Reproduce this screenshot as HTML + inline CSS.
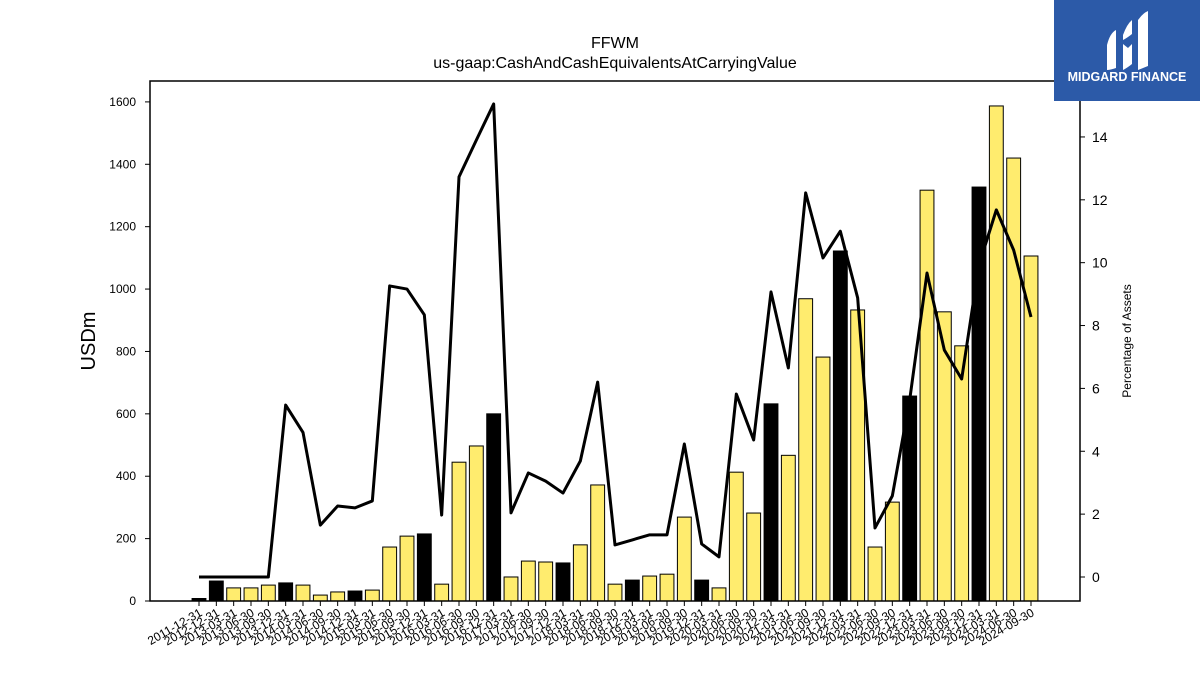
<!DOCTYPE html>
<html><head><meta charset="utf-8"><style>
body{margin:0;background:#fff;}
svg{display:block;font-family:"Liberation Sans","DejaVu Sans",sans-serif;}
</style></head><body>
<svg id="chart" width="1200" height="675" viewBox="0 0 1200 675">
<text x="615" y="48" text-anchor="middle" font-size="16">FFWM</text>
<text x="615" y="68" text-anchor="middle" font-size="16">us-gaap:CashAndCashEquivalentsAtCarryingValue</text>
<text transform="translate(95,341) rotate(-90)" text-anchor="middle" font-size="20">USDm</text>
<text transform="translate(1131,341) rotate(-90)" text-anchor="middle" font-size="12">Percentage of Assets</text>
<g id="bars"></g>
<g id="line"></g>
<rect x="150" y="81" width="930" height="520" fill="none" stroke="#000" stroke-width="1.5"/>
<g id="axes"></g>
<g>
<rect x="1054" y="0" width="146" height="101" fill="#2c5aa8"/>
<path d="M1107,45 Q1110,33 1116,30 L1116,68 Q1110,70 1107,70 Z" fill="#fff"/>
<path d="M1123,35 Q1127,24 1132,20 L1132,34 Q1127,38 1123,40 Z M1123,44 L1128,48 L1132,44 L1132,64 Q1127,68 1123,70 Z" fill="#fff"/>
<path d="M1138,20 Q1143,13 1148,11 L1148,66 Q1143,68 1138,70 Z" fill="#fff"/>
<text x="1127" y="81" text-anchor="middle" font-size="12.5" font-weight="bold" fill="#fff">MIDGARD FINANCE</text>
</g>
</svg>
<script>
const categories = ["2011-12-31","2012-12-31","2013-03-31","2013-06-30","2013-09-30","2013-12-31","2014-03-31","2014-06-30","2014-09-30","2014-12-31","2015-03-31","2015-06-30","2015-09-30","2015-12-31","2016-03-31","2016-06-30","2016-09-30","2016-12-31","2017-03-31","2017-06-30","2017-09-30","2017-12-31","2018-03-31","2018-06-30","2018-09-30","2018-12-31","2019-03-31","2019-06-30","2019-09-30","2019-12-31","2020-03-31","2020-06-30","2020-09-30","2020-12-31","2021-03-31","2021-06-30","2021-09-30","2021-12-31","2022-03-31","2022-06-30","2022-09-30","2022-12-31","2023-03-31","2023-06-30","2023-09-30","2023-12-31","2024-03-31","2024-06-30","2024-09-30"];
const cashValues = [8,64,42,42,51,58,51,19,29,32,35,173,208,215,54,445,497,600,77,128,125,122,180,372,54,67,80,86,269,67,42,413,282,632,467,969,782,1122,933,173,317,657,1317,927,818,1327,1587,1420,1106];
const pctValues = [0,0,0,0,0,5.47,4.6,1.65,2.26,2.2,2.42,9.26,9.16,8.34,1.97,12.73,13.9,15.05,2.04,3.31,3.05,2.67,3.69,6.2,1.02,1.18,1.34,1.34,4.23,1.05,0.64,5.82,4.36,9.07,6.65,12.22,10.15,11.0,8.88,1.56,2.58,5.63,9.67,7.22,6.3,9.93,11.68,10.4,8.27];
const leftTicks = [0,200,400,600,800,1000,1200,1400,1600];
const rightTicks = [0,2,4,6,8,10,12,14];

const NS="http://www.w3.org/2000/svg";
const X0=199, X1=1031, TOP=81, BOT=601;
const step=(X1-X0)/(categories.length-1);
const xS=i=>X0+i*step;
const yL=v=>BOT-(v/1667)*(BOT-TOP);
const yR=v=>BOT-((v+0.764)/(15.78+0.764))*(BOT-TOP);
function mk(tag,attrs,parent){const e=document.createElementNS(NS,tag);for(const k in attrs)e.setAttribute(k,attrs[k]);parent.appendChild(e);return e;}
const bars=document.getElementById('bars'), line=document.getElementById('line'), axes=document.getElementById('axes');
const bw=step*0.8;
cashValues.forEach((v,i)=>{
  const annual=categories[i].endsWith('12-31');
  const r=mk('rect',{x:xS(i)-bw/2,y:yL(v),width:bw,height:BOT-yL(v),fill:annual?'#000':'#ffec6e',stroke:'#000','stroke-width':1},bars);
  
  
});
const pts=pctValues.map((v,i)=>xS(i)+','+yR(v)).join(' ');
const pl=mk('polyline',{points:pts,fill:'none',stroke:'#000','stroke-width':3,'stroke-linejoin':'round'},line);


leftTicks.forEach(t=>{
  const y=yL(t);
  const l=mk('line',{x1:145,x2:150,y1:y,y2:y,stroke:'#000'},axes);
  
  
  const tx=mk('text',{x:136,y:y+4,'text-anchor':'end','font-size':12},axes);
  tx.textContent=t;
  
  
});
rightTicks.forEach(t=>{
  const y=yR(t);
  const l=mk('line',{x1:1080,x2:1085,y1:y,y2:y,stroke:'#000'},axes);
  
  
  const tx=mk('text',{x:1092,y:y+5,'font-size':14},axes);
  tx.textContent=t;
  
  
});
categories.forEach((c,i)=>{
  const x=xS(i);
  const l=mk('line',{x1:x,x2:x,y1:BOT,y2:BOT+5,stroke:'#000'},axes);
  
  
  const tx=mk('text',{transform:`translate(${x+4},${BOT+14}) rotate(-30)`,'text-anchor':'end','font-size':12},axes);
  tx.textContent=c;
  
  
});
</script>
</body></html>
